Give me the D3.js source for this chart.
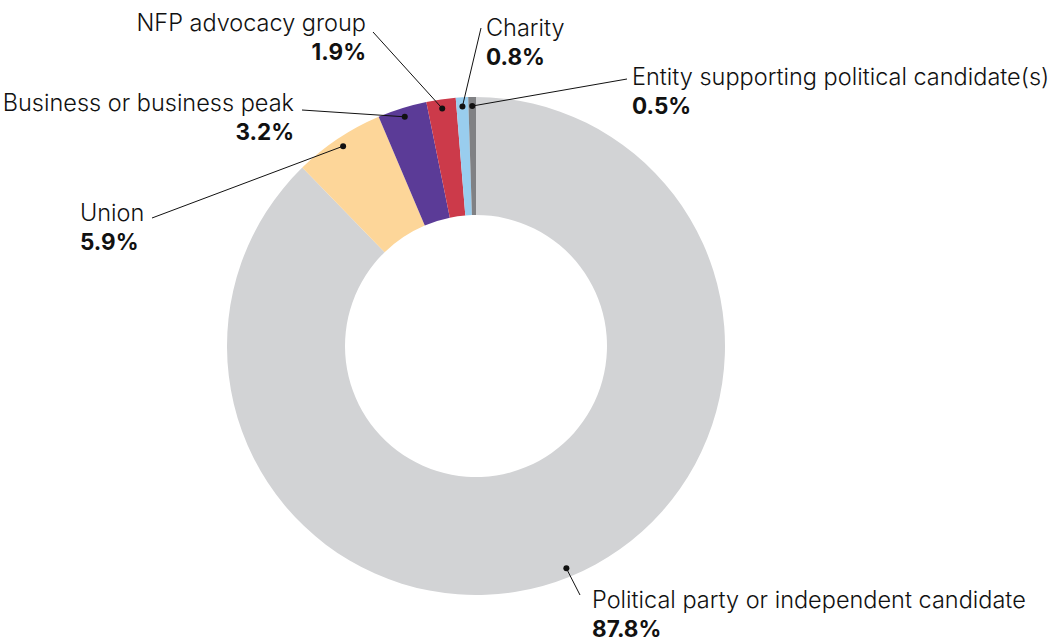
<!DOCTYPE html>
<html>
<head>
<meta charset="utf-8">
<script src="https://cdn.jsdelivr.net/npm/d3@7"></script>
<style>
  html, body { margin: 0; padding: 0; background: #ffffff; }
  svg { display: block; }
  .lbl { font-family: Inter, "Open Sans", sans-serif; font-weight: 300; fill: #111; }
  .val { font-family: Inter, "Open Sans", sans-serif; font-weight: 700; fill: #111; }
</style>
</head>
<body>
<svg id="chart" width="1062" height="641"></svg>
<script>
// ---- data ----
const categories = [
  "Political party or independent candidate",
  "Union",
  "Business or business peak",
  "NFP advocacy group",
  "Charity",
  "Entity supporting political candidate(s)"
];
const values = [87.8, 5.9, 3.2, 1.9, 0.8, 0.5];
const valueLabels = ["87.8%", "5.9%", "3.2%", "1.9%", "0.8%", "0.5%"];
const colors = ["#d2d3d5", "#fdd699", "#5b3b97", "#cc3a4a", "#99cdee", "#808184"];

// ---- layout (label placement) ----
const labelX      = [592, 80, 294, 366, 486, 632];
const labelY      = [608, 221, 111, 31, 36, 85];
const labelAnchor = ["start", "start", "end", "end", "start", "start"];
const leaderEndX  = [580, 152, 302, 373, 481, 627];
const leaderEndY  = [595, 218, 110, 32, 28, 79];

const W = 1062, H = 641;
const cx = 476, cy = 346;
const outerR = 249, innerR = 131, dotR = 240;
const labelFont = 23.5, valueFont = 22.5, lineGap = 29;

const svg = d3.select("#chart");
const g = svg.append("g").attr("transform", `translate(${cx},${cy})`);

const data = categories.map((c, i) => ({ name: c, value: values[i], i }));
const pie = d3.pie().value(d => d.value).sort(null).startAngle(0).endAngle(2 * Math.PI);
const arcs = pie(data);

const arc = d3.arc().innerRadius(innerR).outerRadius(outerR);
const dotArc = d3.arc().innerRadius(dotR).outerRadius(dotR);

g.selectAll("path.slice")
  .data(arcs)
  .join("path")
  .attr("class", "slice")
  .attr("d", arc)
  .attr("fill", d => colors[d.data.i]);

// leader lines
svg.selectAll("line.leader")
  .data(arcs)
  .join("line")
  .attr("class", "leader")
  .attr("x1", d => cx + dotArc.centroid(d)[0])
  .attr("y1", d => cy + dotArc.centroid(d)[1])
  .attr("x2", d => leaderEndX[d.data.i])
  .attr("y2", d => leaderEndY[d.data.i])
  .attr("stroke", "#111")
  .attr("stroke-width", 1);

// dots
svg.selectAll("circle.dot")
  .data(arcs)
  .join("circle")
  .attr("class", "dot")
  .attr("cx", d => cx + dotArc.centroid(d)[0])
  .attr("cy", d => cy + dotArc.centroid(d)[1])
  .attr("r", 3)
  .attr("fill", "#111");

// labels
const lab = svg.selectAll("g.label")
  .data(arcs)
  .join("g")
  .attr("class", "label");

lab.append("text")
  .attr("class", "lbl")
  .attr("x", d => labelX[d.data.i])
  .attr("y", d => labelY[d.data.i])
  .attr("text-anchor", d => labelAnchor[d.data.i])
  .attr("font-size", labelFont)
  .text(d => d.data.name);

lab.append("text")
  .attr("class", "val")
  .attr("x", d => labelX[d.data.i])
  .attr("y", d => labelY[d.data.i] + lineGap)
  .attr("text-anchor", d => labelAnchor[d.data.i])
  .attr("font-size", valueFont)
  .text(d => valueLabels[d.data.i]);
</script>
</body>
</html>
